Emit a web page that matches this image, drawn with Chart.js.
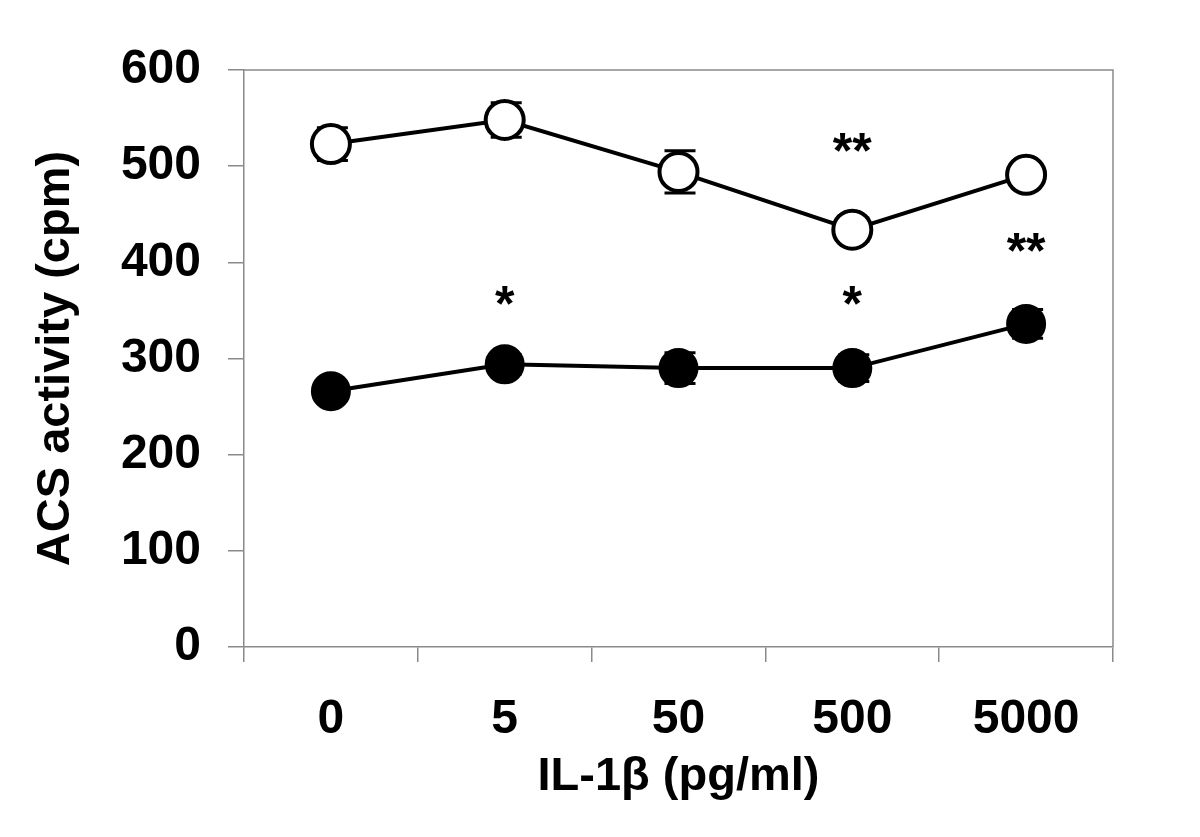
<!DOCTYPE html>
<html>
<head>
<meta charset="utf-8">
<script src="https://cdn.jsdelivr.net/npm/chart.js@4.4.0/dist/chart.umd.min.js"></script>
<style>
  html, body { margin: 0; padding: 0; background: #fff; }
  #wrap { width: 1200px; height: 837px; }
</style>
</head>
<body>
<div id="wrap"><canvas id="c" width="1200" height="837"></canvas></div>
<script>
// data
const doses = ['0', '5', '50', '500', '5000'];
const openVals = [523, 548, 494, 434, 491];
const openErr = [17, 18, 22, 12, 10];
const filledVals = [266, 294, 290, 290, 336];
const filledErr = [8, 10, 16, 14, 15];

// significance marks: category index, value where the mark sits, text
const markIdx = [3, 1, 3, 4];
const markVal = [527, 368, 368, 423];
const markText = ['**', '*', '*', '**'];

const FONT = '"Liberation Sans", Arial, sans-serif';
const GRID = '#8a8a8a';

const errorBars = {
  id: 'errorBars',
  beforeDatasetsDraw(chart) {
    const ctx = chart.ctx;
    const x = chart.scales.x, y = chart.scales.y;
    const sets = [[openVals, openErr], [filledVals, filledErr]];
    ctx.save();
    ctx.strokeStyle = '#000';
    ctx.lineWidth = 3;
    sets.forEach(([vals, errs]) => {
      vals.forEach((v, i) => {
        const px = x.getPixelForValue(i);
        const top = y.getPixelForValue(v + errs[i]);
        const bot = y.getPixelForValue(v - errs[i]);
        ctx.beginPath();
        ctx.moveTo(px, top); ctx.lineTo(px, bot);
        ctx.moveTo(px - 14, top); ctx.lineTo(px + 17, top);
        ctx.moveTo(px - 14, bot); ctx.lineTo(px + 17, bot);
        ctx.stroke();
      });
    });
    ctx.restore();
  }
};

const frameAndMarks = {
  id: 'frameAndMarks',
  afterDraw(chart) {
    const ctx = chart.ctx;
    const a = chart.chartArea;
    const x = chart.scales.x, y = chart.scales.y;
    ctx.save();
    // top and right border of the plot box
    ctx.strokeStyle = GRID;
    ctx.lineWidth = 1.5;
    ctx.beginPath();
    ctx.moveTo(a.left, a.top); ctx.lineTo(a.right, a.top); ctx.lineTo(a.right, a.bottom);
    ctx.stroke();
    // asterisks
    ctx.fillStyle = '#000';
    ctx.font = 'bold 50px ' + FONT;
    ctx.textAlign = 'center';
    ctx.textBaseline = 'alphabetic';
    markIdx.forEach((idx, k) => {
      const px = x.getPixelForValue(idx);
      const py = y.getPixelForValue(markVal[k]);
      ctx.fillText(markText[k], px, py + 28);
    });
    ctx.restore();
  }
};

new Chart(document.getElementById('c'), {
  type: 'line',
  data: {
    labels: doses,
    datasets: [
      {
        data: openVals,
        borderColor: '#000',
        borderWidth: 4,
        pointRadius: 19,
        pointBorderWidth: 4,
        pointBackgroundColor: '#fff',
        pointBorderColor: '#000',
        tension: 0
      },
      {
        data: filledVals,
        borderColor: '#000',
        borderWidth: 4,
        pointRadius: 19,
        pointBorderWidth: 2,
        pointBackgroundColor: '#000',
        pointBorderColor: '#000',
        tension: 0
      }
    ]
  },
  options: {
    responsive: false,
    animation: false,
    devicePixelRatio: 1,
    layout: {padding: {top: 70, right: 87, left: 0, bottom: 0}},
    plugins: {legend: {display: false}, tooltip: {enabled: false}},
    scales: {
      x: {
        offset: true,
        grid: {offset: true, drawOnChartArea: false, drawTicks: true, tickLength: 15, color: GRID, lineWidth: 1.5},
        border: {color: GRID, width: 1.5},
        ticks: {color: '#000', font: {family: FONT, size: 48, weight: 'bold'}, padding: 29, maxRotation: 0},
        title: {display: true, text: 'IL-1β (pg/ml)', color: '#000',
                font: {family: FONT, size: 47, weight: 'bold'}, padding: {top: 0, bottom: 32}},
        afterFit: s => { s.height = 190; }
      },
      y: {
        min: 0, max: 600,
        ticks: {stepSize: 100, color: '#000', font: {family: FONT, size: 48, weight: 'bold'}, padding: 27},
        grid: {drawOnChartArea: false, drawTicks: true, tickLength: 16, color: GRID, lineWidth: 1.5},
        border: {color: GRID, width: 1.5},
        title: {display: true, text: 'ACS activity (cpm)', color: '#000',
                font: {family: FONT, size: 47, weight: 'bold'}, padding: {top: 28, bottom: 0}},
        afterFit: s => { s.width = 244; }
      }
    }
  },
  plugins: [errorBars, frameAndMarks]
});
</script>
</body>
</html>
